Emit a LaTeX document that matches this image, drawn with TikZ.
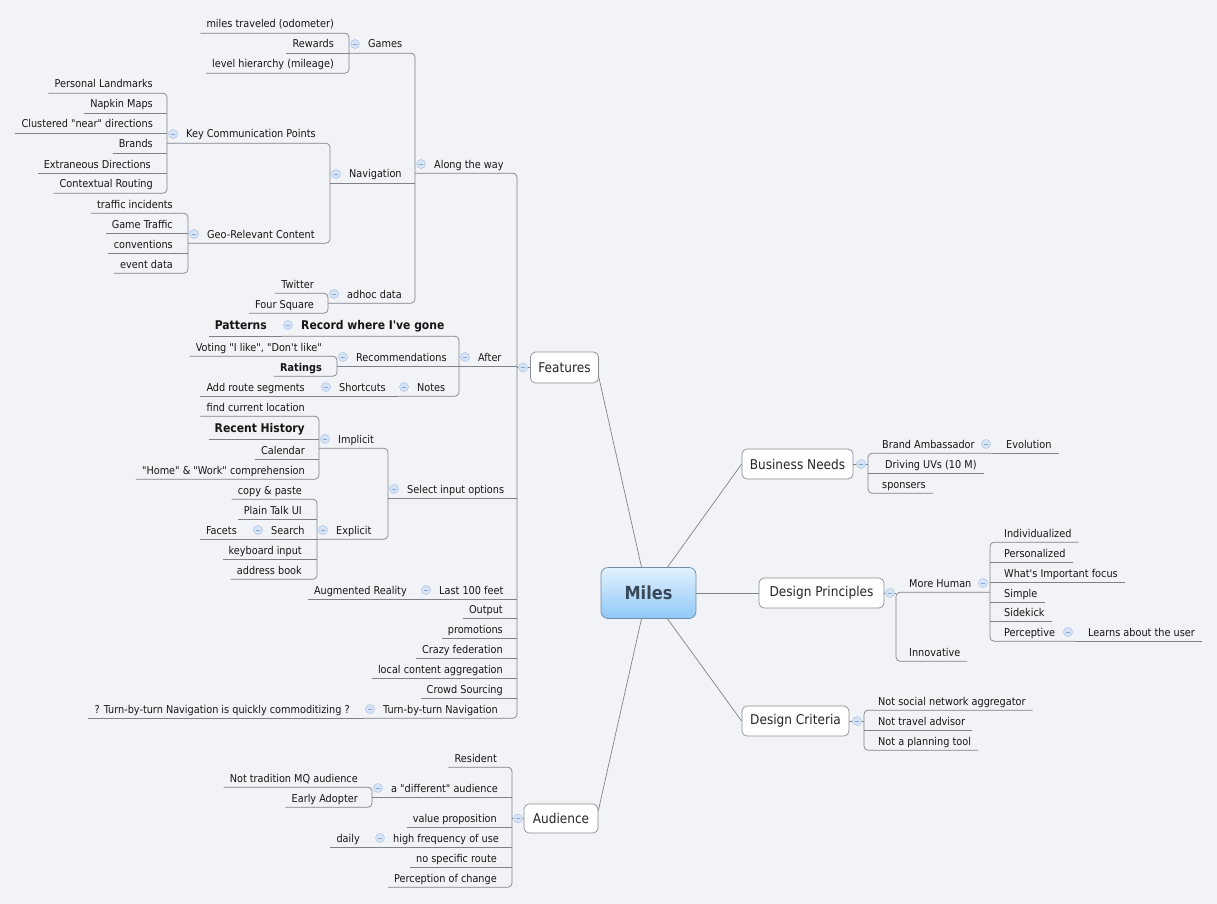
\documentclass[tikz,border=0pt]{standalone}
\usepackage{fontspec}
\setmainfont{DejaVu Sans Condensed}[Ligatures=TeXOff]
\usetikzlibrary{calc}
\definecolor{bg}{HTML}{F2F3F7}
\definecolor{lineC}{HTML}{7E8288}
\definecolor{txt}{HTML}{161616}
\definecolor{boxB}{HTML}{8A8D92}
\definecolor{iconF}{HTML}{D6E4F6}
\definecolor{iconB}{HTML}{A9C4E8}
\definecolor{iconM}{HTML}{86A8D8}
\definecolor{milesT}{HTML}{E2F1FE}
\definecolor{milesB}{HTML}{90C8F7}
\definecolor{milesD}{HTML}{6F8BA8}
\definecolor{milesTxt}{HTML}{3A4756}
\pgfdeclarelayer{fg}
\pgfsetlayers{main,fg}
% left leaf: [style]{name}{right x}{y}{text}
\newcommand\mmLL[5][]{\node[lt,#1] (#2) at (#3,#4) {#5};\coordinate (#2L) at ([xshift=-6pt]#2.south west);}
% left parent: [style]{name}{spine x}{y}{text}
\newcommand\mmLP[5][]{\node[lp,#1] (#2) at (#3+19,#4) {#5};\coordinate (#2S) at (#3,#4);\coordinate (#2L) at (#2.south -| #2S);\begin{pgfonlayer}{fg}\node[icon] (#2i) at (#3+6,#4) {};\end{pgfonlayer}}
% right leaf: [style]{name}{left x}{y}{text}
\newcommand\mmRL[5][]{\node[rt,#1] (#2) at (#3,#4) {#5};\coordinate (#2R) at ([xshift=7pt]#2.south east);}
% right parent: [style]{name}{left x}{y}{spine x}{text}
\newcommand\mmRP[6][]{\node[rt,#1] (#2) at (#3,#4) {#6};\coordinate (#2S) at (#5,#4);\coordinate (#2R) at (#2.south -| #2S);\begin{pgfonlayer}{fg}\node[icon] (#2i) at (#5-7,#4) {};\end{pgfonlayer}}
\newcommand\mmLS[3]{\draw[sp] (#2L) -- (#2L -| #1) -- (#3L -| #1) -- (#3L);}
\newcommand\mmLC[2]{\draw[ln] (#1L) -- (#1L -| #2);}
\newcommand\mmRS[3]{\draw[sp] (#2R) -- (#2R -| #1) -- (#3R -| #1) -- (#3R);}
\newcommand\mmRC[2]{\draw[ln] (#1R -| #2) -- (#1R);}
\begin{document}
\begin{tikzpicture}[x=1pt,y=-1pt,
  tp/.style={font=\fontsize{10.8}{12}\selectfont, text=txt, inner xsep=0pt, inner ysep=4pt, text height=9pt, text depth=1pt},
  bb/.style={font=\fontsize{12}{14}\selectfont\bfseries, text height=10pt, text depth=2pt, inner ysep=5pt},
  bn/.style={font=\fontsize{10.8}{12}\selectfont\bfseries},
  lt/.style={tp, anchor=east},
  lp/.style={tp, anchor=west},
  rt/.style={tp, anchor=west},
  ln/.style={draw=lineC, line width=0.7pt},
  sp/.style={ln, rounded corners=4pt},
  ml/.style={draw=lineC, line width=0.7pt},
  icon/.style={circle, minimum size=9pt, inner sep=0pt, draw=iconB, fill=iconF, line width=0.5pt,
    path picture={\draw[iconM, line width=0.8pt] ([xshift=-2.2pt]path picture bounding box.center) -- ([xshift=2.2pt]path picture bounding box.center);}},
  box/.style={draw=boxB, fill=white, rounded corners=5pt, line width=0.7pt, font=\fontsize{13.5}{16}\selectfont, text=black!85, inner xsep=0pt, minimum height=30pt},
]
\fill[bg] (0,0) rectangle (1217,904);
\useasboundingbox (0,0) rectangle (1217,904);

% ---------------- central and main boxes
\node[draw=milesD, rounded corners=7pt, top color=milesT, bottom color=milesB, line width=0.7pt,
  minimum width=95pt, minimum height=51pt, font=\fontsize{18}{20}\selectfont\bfseries, text=milesTxt] (miles) at (648.5,593) {Miles};
\node[box, minimum width=68pt, minimum height=31pt] (feat) at (564.5,367.5) {Features};
\node[box, minimum width=74pt, minimum height=29pt] (aud) at (561,818.5) {Audience};
\node[box, minimum width=111pt] (bn) at (797.5,464) {Business Needs};
\node[box, minimum width=125pt] (dp) at (821.5,593) {Design Principles};
\node[box, minimum width=107pt] (dc) at (795.5,721) {Design Criteria};

\draw[ml] ([yshift=-10pt]feat.east) -- ([xshift=-7pt]miles.north);
\draw[ml] ([xshift=19pt]miles.north) -- (bn.west);
\draw[ml] (miles.east) -- (dp.west);
\draw[ml] ([xshift=19pt]miles.south) -- (dc.west);
\draw[ml] ([xshift=-7pt]miles.south) -- ([yshift=8pt]aud.east);

% ---------------- Features branch
\coordinate (featS) at (517,367.5);
\begin{pgfonlayer}{fg}\node[icon] (feati) at (523,367.5) {};\end{pgfonlayer}
\draw[ln] (feat.west) -- (feat.west -| featS);

% Along the way
\mmLL{odo}{334}{24}{miles traveled (odometer)}
\mmLL{rew}{334}{44}{Rewards}
\mmLL{lvl}{334}{64}{level hierarchy (mileage)}
\mmLP{games}{349}{44}{Games}
\mmLS{gamesS}{odo}{lvl}
\mmLC{rew}{gamesS}

\mmLL{pl}{153}{84}{Personal Landmarks}
\mmLL{nm}{153}{104}{Napkin Maps}
\mmLL{cl}{153}{124}{Clustered "near" directions}
\mmLL{br}{153}{144}{Brands}
\mmLL{ed}{151}{164}{Extraneous Directions}
\mmLL{cr}{153}{184}{Contextual Routing}
\mmLP{kcp}{167}{134}{Key Communication Points}
\mmLS{kcpS}{pl}{cr}
\mmLC{nm}{kcpS}\mmLC{cl}{kcpS}\mmLC{br}{kcpS}\mmLC{ed}{kcpS}

\mmLL{ti}{173}{204}{traffic incidents}
\mmLL{gt}{173}{224}{Game Traffic}
\mmLL{cv}{173}{244}{conventions}
\mmLL{evd}{173}{264}{event data}
\mmLP{geo}{188}{234}{Geo-Relevant Content}
\mmLS{geoS}{ti}{evd}
\mmLC{gt}{geoS}\mmLC{cv}{geoS}

\mmLP{nav}{330}{174}{Navigation}
\mmLS{navS}{kcp}{geo}

\mmLL{tw}{314}{284}{Twitter}
\mmLL{fs}{314}{304}{Four Square}
\mmLP{adhoc}{328}{294}{adhoc data}
\mmLS{adhocS}{tw}{fs}

\mmLP{along}{415}{164}{Along the way}
\mmLS{alongS}{games}{adhoc}
\mmLC{nav}{alongS}

% After
\mmLL[bb]{pat}{267}{325}{Patterns}
\mmLP[bb]{rec}{282}{325}{Record where I've gone}
\mmLC{pat}{recS}
\mmLL{vot}{322}{347}{Voting "I like", "Don't like"}
\mmLL[bn]{rat}{322}{367}{Ratings}
\mmLP{recm}{337}{357}{Recommendations}
\mmLS{recmS}{vot}{rat}
\mmLL{ars}{305}{387}{Add route segments}
\mmLP{sc}{320}{387}{Shortcuts}
\mmLC{ars}{scS}
\mmLP{notes}{398}{387}{Notes}
\mmLC{sc}{notesS}
\mmLP{after}{459}{357}{After}
\mmLS{afterS}{rec}{notes}
\mmLC{recm}{afterS}

% Select input options
\mmLL{fcl}{305}{407}{find current location}
\mmLL[bb]{rh}{305}{428}{Recent History}
\mmLL{cal}{305}{450}{Calendar}
\mmLL{hw}{305}{470}{"Home" \& "Work" comprehension}
\mmLP{impl}{319}{439}{Implicit}
\mmLS{implS}{fcl}{hw}
\mmLC{rh}{implS}\mmLC{cal}{implS}

\mmLL{cp}{302}{490}{copy \& paste}
\mmLL{pt}{302}{510}{Plain Talk UI}
\mmLL{fac}{237}{530}{Facets}
\mmLP{srch}{252}{530}{Search}
\mmLC{fac}{srchS}
\mmLL{kb}{302}{550}{keyboard input}
\mmLL{ab}{302}{570}{address book}
\mmLP{expl}{317}{530}{Explicit}
\mmLS{explS}{cp}{ab}
\mmLC{pt}{explS}\mmLC{srch}{explS}\mmLC{kb}{explS}

\mmLP{sel}{388}{489}{Select input options}
\mmLS{selS}{impl}{expl}

% other Features children
\mmLL{ar}{407}{590}{Augmented Reality}
\mmLP{last}{420}{590}{Last 100 feet}
\mmLC{ar}{lastS}
\mmLL{out}{503}{609}{Output}
\mmLL{prom}{503}{629}{promotions}
\mmLL{crazy}{503}{649}{Crazy federation}
\mmLL{lca}{503}{669}{local content aggregation}
\mmLL{crowd}{503}{689}{Crowd Sourcing}
\mmLL{tq}{350}{709}{? Turn-by-turn Navigation is quickly commoditizing ?}
\mmLP{tbt}{364}{709}{Turn-by-turn Navigation}
\mmLC{tq}{tbtS}

\mmLS{featS}{along}{tbt}
\mmLC{after}{featS}\mmLC{sel}{featS}\mmLC{last}{featS}
\mmLC{out}{featS}\mmLC{prom}{featS}\mmLC{crazy}{featS}
\mmLC{lca}{featS}\mmLC{crowd}{featS}

% ---------------- Audience branch
\coordinate (audS) at (512,818.5);
\begin{pgfonlayer}{fg}\node[icon] (audi) at (518,818.5) {};\end{pgfonlayer}
\draw[ln] (aud.west) -- (aud.west -| audS);
\mmLL{res}{497}{758}{Resident}
\mmLL{ntm}{358}{778}{Not tradition MQ audience}
\mmLL{ea}{358}{798}{Early Adopter}
\mmLP{diff}{372}{788}{a "different" audience}
\mmLS{diffS}{ntm}{ea}
\mmLL{vp}{497}{818}{value proposition}
\mmLL{daily}{360}{838}{daily}
\mmLP{hf}{374}{838}{high frequency of use}
\mmLC{daily}{hfS}
\mmLL{nsr}{497}{858}{no specific route}
\mmLL{poc}{497}{878}{Perception of change}
\mmLS{audS}{res}{poc}
\mmLC{diff}{audS}\mmLC{vp}{audS}\mmLC{hf}{audS}\mmLC{nsr}{audS}

% ---------------- Business Needs
\coordinate (bnS) at (868,464);
\begin{pgfonlayer}{fg}\node[icon] (bni) at (861,464) {};\end{pgfonlayer}
\draw[ln] (bn.east) -- (bn.east -| bnS);
\mmRP{ba}{882}{444}{993}{Brand Ambassador}
\mmRL{evo}{1006}{444}{Evolution}
\mmRC{evo}{baS}
\mmRL{duv}{885}{464}{Driving UVs (10 M)}
\mmRL{spo}{882}{484}{sponsers}
\mmRS{bnS}{ba}{spo}
\mmRC{duv}{bnS}

% ---------------- Design Principles
\coordinate (dpS) at (896,593);
\begin{pgfonlayer}{fg}\node[icon] (dpi) at (890,593) {};\end{pgfonlayer}
\draw[ln] (dp.east) -- (dp.east -| dpS);
\mmRP{mh}{909}{583}{990}{More Human}
\mmRL{ind}{1004}{533}{Individualized}
\mmRL{per}{1004}{553}{Personalized}
\mmRL{wif}{1004}{573}{What's Important focus}
\mmRL{sim}{1004}{593}{Simple}
\mmRL{sk}{1004}{612}{Sidekick}
\mmRP{perc}{1004}{632}{1075}{Perceptive}
\mmRL{lau}{1088}{632}{Learns about the user}
\mmRC{lau}{percS}
\mmRS{mhS}{ind}{perc}
\mmRC{per}{mhS}\mmRC{wif}{mhS}\mmRC{sim}{mhS}\mmRC{sk}{mhS}
\mmRL{inn}{909}{652}{Innovative}
\mmRS{dpS}{mh}{inn}

% ---------------- Design Criteria
\coordinate (dcS) at (864,721);
\begin{pgfonlayer}{fg}\node[icon] (dci) at (857,721) {};\end{pgfonlayer}
\draw[ln] (dc.east) -- (dc.east -| dcS);
\mmRL{nsn}{878}{701}{Not social network aggregator}
\mmRL{nta}{878}{721}{Not travel advisor}
\mmRL{npt}{878}{741}{Not a planning tool}
\mmRS{dcS}{nsn}{npt}
\mmRC{nta}{dcS}
\end{tikzpicture}
\end{document}
